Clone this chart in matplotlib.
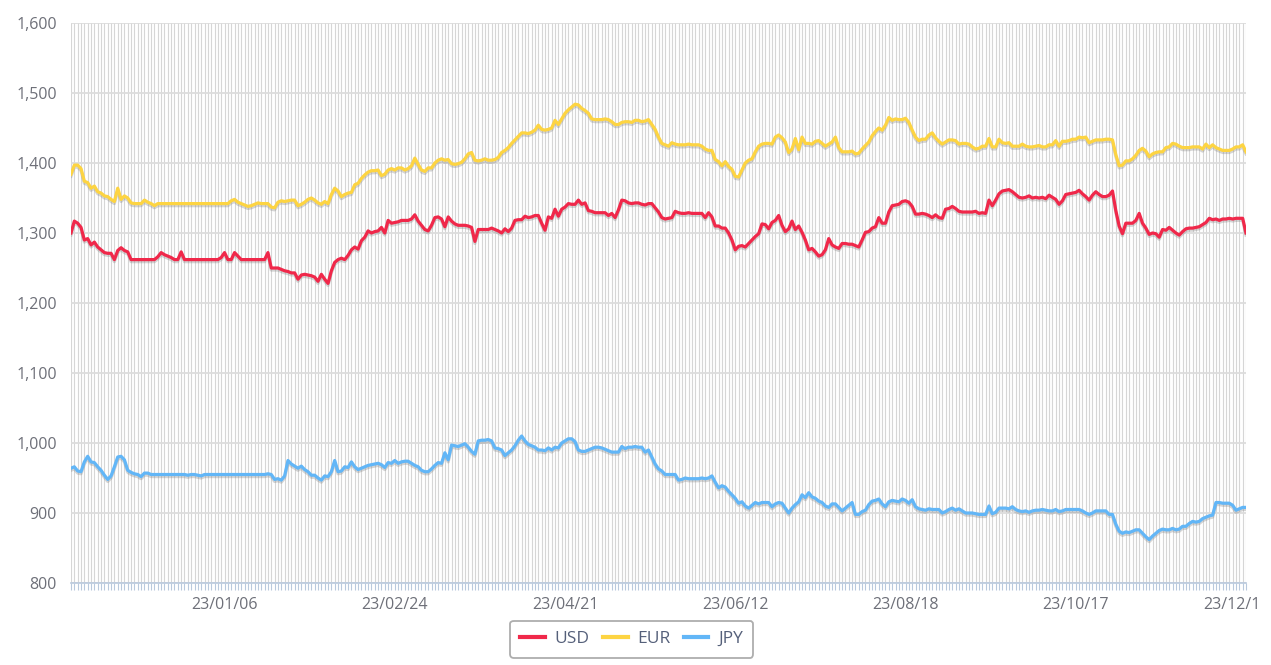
import matplotlib.pyplot as plt
import matplotlib.patheffects as pe
import matplotlib.transforms as mtrans
from matplotlib.ticker import FuncFormatter, MultipleLocator
import numpy as np

plt.rcParams['font.family'] = ['Open Sans', 'DejaVu Sans']

# 환율 데이터 (일별)
usd = [
    1300, 1317, 1314, 1308, 1290, 1292, 1283, 1287, 1280, 1276,
    1272, 1271, 1271, 1262, 1275, 1279, 1275, 1273, 1262, 1262,
    1262, 1262, 1262, 1262, 1262, 1262, 1266, 1272, 1269, 1267,
    1265, 1262, 1262, 1273, 1262, 1262, 1262, 1262, 1262, 1262,
    1262, 1262, 1262, 1262, 1262, 1265, 1272, 1262, 1262, 1272,
    1267, 1262, 1262, 1262, 1262, 1262, 1262, 1262, 1262, 1272,
    1250, 1250, 1250, 1248, 1246, 1245, 1243, 1243, 1234, 1240,
    1241, 1240, 1239, 1237, 1231, 1241, 1234, 1228, 1246, 1258,
    1262, 1264, 1262, 1268, 1276, 1280, 1277, 1289, 1294, 1303,
    1300, 1302, 1303, 1308, 1300, 1318, 1314, 1315, 1316, 1318,
    1318, 1318, 1320, 1326, 1317, 1311, 1305, 1303, 1311, 1322,
    1323, 1320, 1309, 1323, 1317, 1313, 1311, 1311, 1311, 1310,
    1308, 1288, 1305, 1305, 1305, 1305, 1307, 1305, 1303, 1300,
    1306, 1302, 1307, 1318, 1319, 1319, 1324, 1322, 1323, 1325,
    1325, 1314, 1304, 1323, 1321, 1334, 1324, 1334, 1337, 1342,
    1341, 1341, 1347, 1341, 1343, 1332, 1331, 1329, 1329, 1329,
    1329, 1325, 1328, 1322, 1333, 1347, 1346, 1343, 1342, 1343,
    1343, 1341, 1340, 1342, 1342, 1336, 1330, 1322, 1320, 1321,
    1322, 1331, 1329, 1328, 1328, 1329, 1328, 1328, 1328, 1328,
    1322, 1329, 1323, 1310, 1310, 1307, 1307, 1300, 1290, 1276,
    1281, 1282, 1280, 1285, 1290, 1295, 1299, 1313, 1312, 1306,
    1315, 1318, 1325, 1311, 1302, 1306, 1317, 1305, 1310, 1301,
    1290, 1276, 1278, 1273, 1267, 1269, 1276, 1292, 1283, 1280,
    1278, 1285, 1285, 1284, 1284, 1282, 1280, 1290, 1301, 1302,
    1307, 1309, 1322, 1314, 1314, 1330, 1339, 1340, 1341, 1345,
    1346, 1344, 1338, 1327, 1327, 1328, 1327, 1325, 1322, 1326,
    1322, 1321, 1334, 1335, 1338, 1335, 1331, 1330, 1330, 1330,
    1330, 1331, 1328, 1329, 1328, 1347, 1339, 1347, 1356, 1360,
    1361, 1362, 1359, 1355, 1351, 1350, 1351, 1353, 1350, 1351,
    1350, 1351, 1349, 1354, 1351, 1348, 1341, 1346, 1355, 1356,
    1357, 1358, 1361, 1356, 1352, 1347, 1354, 1359, 1355, 1352,
    1352, 1354, 1360, 1332, 1310, 1299, 1314, 1314, 1314, 1318,
    1328, 1314, 1307, 1298, 1300, 1299, 1294, 1305, 1304, 1308,
    1304, 1300, 1297, 1302, 1306, 1307, 1307, 1308, 1309, 1312,
    1315, 1321, 1319, 1320, 1318, 1320, 1320, 1321, 1320, 1321,
    1321, 1321, 1300,
]

eur = [
    1384, 1397, 1397, 1392, 1374, 1372, 1364, 1367, 1359, 1357,
    1353, 1352, 1348, 1345, 1364, 1348, 1353, 1350, 1343, 1342,
    1342, 1342, 1347, 1344, 1342, 1339, 1342, 1342, 1342, 1342,
    1342, 1342, 1342, 1342, 1342, 1342, 1342, 1342, 1342, 1342,
    1342, 1342, 1342, 1342, 1342, 1342, 1342, 1342, 1346, 1348,
    1344, 1342, 1340, 1338, 1339, 1341, 1343, 1342, 1342, 1342,
    1337, 1336, 1344, 1346, 1345, 1346, 1347, 1347, 1339, 1341,
    1344, 1348, 1350, 1347, 1343, 1341, 1345, 1342, 1355, 1364,
    1360, 1352, 1355, 1357, 1358, 1369, 1371, 1378, 1383, 1387,
    1389, 1389, 1390, 1382, 1384, 1390, 1392, 1390, 1393, 1393,
    1390, 1392, 1396, 1407, 1398, 1390, 1388, 1393, 1393, 1400,
    1404, 1406, 1404, 1405, 1399, 1398, 1399, 1401, 1406, 1413,
    1415, 1404, 1403, 1404, 1406, 1404, 1404, 1405, 1408, 1415,
    1418, 1422, 1428, 1433, 1438, 1443, 1443, 1442, 1444, 1447,
    1454, 1448, 1447, 1448, 1450, 1461, 1455, 1463, 1471, 1476,
    1480, 1484, 1483, 1478, 1475, 1471, 1463, 1462, 1462, 1462,
    1463, 1462, 1459, 1455, 1455, 1458, 1459, 1459, 1458, 1461,
    1461, 1459, 1460, 1462, 1455, 1448, 1437, 1428, 1426, 1424,
    1429, 1427, 1426, 1426, 1426, 1427, 1426, 1426, 1426, 1424,
    1420, 1418, 1418, 1405, 1402, 1396, 1402, 1395, 1391, 1381,
    1380, 1390, 1400, 1404, 1406, 1416, 1424, 1427, 1428, 1428,
    1427, 1437, 1440, 1436, 1430, 1415, 1420, 1435, 1419, 1437,
    1428, 1428, 1427, 1431, 1432, 1428, 1424, 1427, 1430, 1437,
    1422, 1416, 1416, 1416, 1417, 1413, 1414, 1420, 1425, 1430,
    1439, 1445, 1450, 1447, 1454, 1465, 1461, 1463, 1462, 1462,
    1464, 1458, 1447, 1437, 1432, 1434, 1434, 1440, 1443, 1436,
    1431, 1427, 1430, 1433, 1433, 1432, 1427, 1428, 1428, 1427,
    1423, 1420, 1421, 1424, 1424, 1435, 1423, 1423, 1434, 1429,
    1428, 1429, 1424, 1424, 1424, 1427, 1424, 1423, 1423, 1424,
    1425, 1423, 1423, 1426, 1426, 1432, 1424, 1431, 1431, 1432,
    1434, 1434, 1437, 1436, 1437, 1429, 1431, 1433, 1433, 1433,
    1434, 1434, 1433, 1412, 1396, 1397, 1403, 1403, 1406, 1411,
    1418, 1421, 1417, 1409, 1413, 1415, 1416, 1416, 1422, 1423,
    1428, 1427, 1424, 1422, 1422, 1422, 1423, 1423, 1423, 1420,
    1427, 1422, 1426, 1422, 1420, 1418, 1418, 1418, 1420, 1423,
    1423, 1426, 1416,
]

jpy = [
    964, 966, 960, 959, 973, 981, 973, 972, 966, 961,
    954, 948, 953, 966, 980, 981, 976, 961, 958, 956,
    955, 952, 957, 957, 955, 955, 955, 955, 955, 955,
    955, 955, 955, 955, 955, 954, 955, 955, 954, 953,
    955, 955, 955, 955, 955, 955, 955, 955, 955, 955,
    955, 955, 955, 955, 955, 955, 955, 955, 955, 956,
    955, 948, 949, 947, 953, 975, 970, 967, 964, 967,
    962, 959, 954, 954, 950, 947, 953, 952, 959, 975,
    959, 960, 966, 965, 973, 966, 962, 964, 966, 968,
    969, 970, 971, 969, 965, 972, 971, 975, 971, 973,
    974, 974, 971, 968, 966, 961, 959, 959, 963, 968,
    972, 971, 986, 976, 997, 996, 995, 997, 999, 994,
    988, 984, 1003, 1004, 1004, 1005, 1003, 993, 992, 990,
    982, 986, 990, 996, 1004, 1010, 1003, 998, 996, 994,
    990, 990, 989, 993, 990, 994, 993, 1000, 1003, 1006,
    1006, 1002, 990, 988, 988, 990, 992, 994, 994, 993,
    991, 989, 987, 987, 987, 995, 992, 994, 994, 995,
    994, 994, 987, 990, 980, 970, 963, 960, 955, 955,
    955, 955, 947, 948, 950, 949, 949, 949, 949, 950,
    949, 950, 953, 944, 936, 939, 937, 931, 926, 921,
    914, 916, 910, 907, 911, 915, 913, 915, 915, 915,
    909, 913, 915, 914, 907, 900, 907, 912, 916, 926,
    922, 929, 923, 921, 917, 915, 910, 908, 913, 913,
    908, 903, 907, 911, 915, 898, 898, 902, 904, 912,
    917, 918, 920, 913, 909, 916, 918, 917, 916, 920,
    918, 914, 919, 909, 906, 905, 904, 906, 905, 905,
    905, 900, 902, 905, 907, 904, 906, 903, 900, 900,
    900, 899, 898, 898, 898, 910, 899, 901, 907, 907,
    907, 906, 909, 905, 903, 902, 903, 901, 903, 904,
    904, 905, 904, 903, 903, 905, 902, 903, 905, 905,
    905, 905, 905, 903, 900, 898, 900, 903, 903, 903,
    903, 898, 898, 884, 874, 871, 873, 872, 874, 876,
    876, 871, 866, 862, 867, 871, 875, 877, 876, 876,
    878, 876, 877, 881, 881, 885, 888, 887, 888, 892,
    894, 896, 897, 915, 915, 914, 914, 914, 911, 904,
    906, 908, 908,
]

# 표시되는 날짜 라벨 (51일 간격)
date_labels = ['23/01/06', '23/02/24', '23/04/21', '23/06/12',
               '23/08/18', '23/10/17', '23/12/1']
label_idx = [46, 97, 148, 199, 250, 301, 352]

x = np.arange(len(usd))

fig = plt.figure(figsize=(12.71, 6.65), dpi=100)
ax = fig.add_axes([71 / 1271, 82 / 665, 1175 / 1271, 560 / 665])

shadow = [pe.SimpleLineShadow(offset=(0, -1.5), shadow_color='#888888', alpha=0.35),
          pe.Normal()]

ax.plot(x, usd, color='#f0284a', lw=2.3, label='USD', path_effects=shadow, zorder=4)
ax.plot(x, eur, color='#fdd442', lw=2.3, label='EUR', path_effects=shadow, zorder=4)
ax.plot(x, jpy, color='#62b6f7', lw=2.3, label='JPY', path_effects=shadow, zorder=4)

ax.set_xlim(0, len(usd) - 1)
ax.set_ylim(800, 1600)

# 축 설정
ax.yaxis.set_major_locator(MultipleLocator(100))
ax.yaxis.set_major_formatter(FuncFormatter(lambda v, p: f'{int(v):,}'))
ax.set_xticks(label_idx)
ax.set_xticklabels(date_labels)
ax.set_xticks(x, minor=True)

ax.grid(axis='y', color='#dcdcdc', lw=1.3)
ax.grid(axis='x', which='both', color='#d6d6d6', lw=0.8)
ax.set_axisbelow(True)

for s in ['top', 'right', 'left']:
    ax.spines[s].set_visible(False)
ax.spines['bottom'].set_color('#b9c9dd')
ax.spines['bottom'].set_linewidth(1.2)

ax.tick_params(axis='y', length=0, pad=10, labelsize=11.5, labelcolor='#6e7079')
ax.tick_params(axis='x', which='both', length=5, color='#b9c9dd', width=0.8,
               labelsize=11.5, labelcolor='#6e7079', pad=5)

# 마지막 라벨은 그림 안에 들어오도록 약간 왼쪽으로
last = ax.get_xticklabels()[-1]
last.set_transform(last.get_transform() + mtrans.ScaledTranslation(-14 / 100, 0, fig.dpi_scale_trans))

leg = fig.legend(loc='upper center', bbox_to_anchor=(0.497, 1 - 612 / 665), ncol=3,
                 frameon=True, fancybox=True, fontsize=12.5, handlelength=1.4,
                 columnspacing=0.8, handletextpad=0.55, borderpad=0.6)
leg.get_frame().set_edgecolor('#999999')
leg.get_frame().set_linewidth(1.3)
for t in leg.get_texts():
    t.set_color('#55607a')
for h in leg.get_lines():
    h.set_linewidth(3)
    h.set_path_effects([])

plt.savefig('out.png', dpi=100)
